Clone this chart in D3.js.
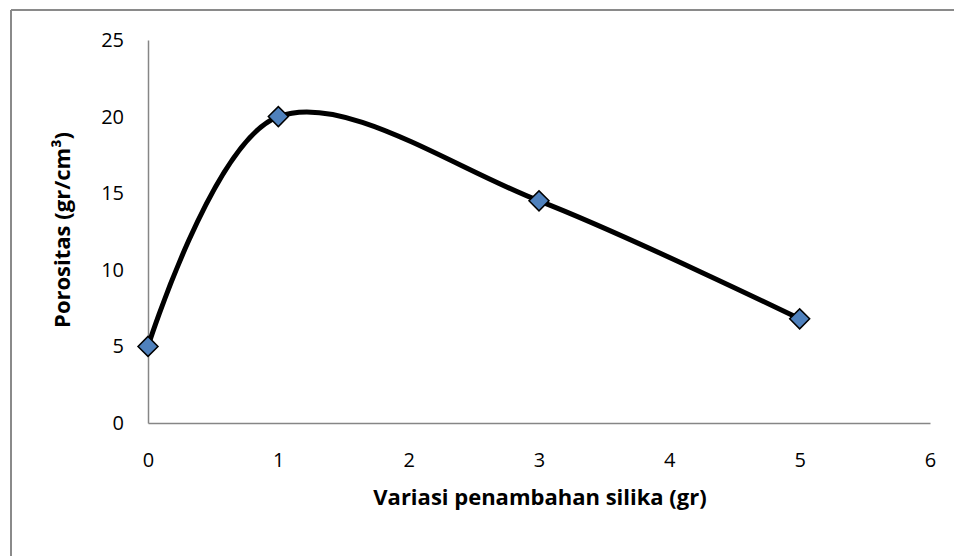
<!DOCTYPE html>
<html>
<head>
<meta charset="utf-8">
<script src="https://cdn.jsdelivr.net/npm/d3@7"></script>
<style>
  body { margin: 0; background: #fff; }
  text { font-family: "Open Sans", "Noto Sans", sans-serif; }
</style>
</head>
<body>
<svg id="chart" width="954" height="556"></svg>
<script>
// data
var silika = [0, 1, 3, 5];
var porositas = [5, 20, 14.5, 6.8];
var xTicks = [0, 1, 2, 3, 4, 5, 6];
var yTicks = [0, 5, 10, 15, 20, 25];

var svg = d3.select("#chart");

// outer chart frame (only top and left show in the picture)
svg.append("line").attr("x1", 11).attr("y1", 10).attr("x2", 954).attr("y2", 10)
  .attr("stroke", "#8a8a8a").attr("stroke-width", 2);
svg.append("line").attr("x1", 11).attr("y1", 10).attr("x2", 11).attr("y2", 556)
  .attr("stroke", "#8a8a8a").attr("stroke-width", 2);

var x = d3.scaleLinear().domain([0, 6]).range([148, 930]);
var y = d3.scaleLinear().domain([0, 25]).range([423, 40]);

var axisColor = "#868686";

// y axis
var gy = svg.append("g").attr("transform", "translate(148,0)")
  .call(d3.axisLeft(y).tickValues(yTicks).tickFormat(d3.format("d")).tickSize(0).tickPadding(24));
gy.select(".domain").attr("stroke", axisColor).attr("stroke-width", 1.5);
gy.selectAll("text").attr("font-size", 20).attr("fill", "#000");

// x axis
var gx = svg.append("g").attr("transform", "translate(0,423)")
  .call(d3.axisBottom(x).tickValues(xTicks).tickFormat(d3.format("d")).tickSize(0).tickPadding(30));
gx.select(".domain").attr("stroke", axisColor).attr("stroke-width", 1.5);
gx.selectAll("text").attr("font-size", 20).attr("fill", "#000");

// axis titles
svg.append("text")
  .attr("x", 540).attr("y", 505)
  .attr("text-anchor", "middle")
  .attr("font-size", 22).attr("font-weight", "bold")
  .text("Variasi penambahan silika (gr)");

svg.append("text")
  .attr("transform", "translate(70,230) rotate(-90)")
  .attr("text-anchor", "middle")
  .attr("font-size", 22).attr("font-weight", "bold")
  .text("Porositas (gr/cm³)");

var pts = silika.map(function(d, i) { return [d, porositas[i]]; });

var line = d3.line()
  .x(function(d) { return x(d[0]); })
  .y(function(d) { return y(d[1]); })
  .curve(d3.curveCardinal.tension(0));

svg.append("path").datum(pts)
  .attr("d", line)
  .attr("fill", "none")
  .attr("stroke", "#000")
  .attr("stroke-width", 5);

svg.selectAll(".marker").data(pts).enter().append("path")
  .attr("class", "marker")
  .attr("d", d3.symbol().type(d3.symbolSquare).size(200))
  .attr("transform", function(d) {
    return "translate(" + x(d[0]) + "," + y(d[1]) + ") rotate(45)";
  })
  .attr("fill", "#4f81bd")
  .attr("stroke", "#000")
  .attr("stroke-width", 1.5);
</script>
</body>
</html>
